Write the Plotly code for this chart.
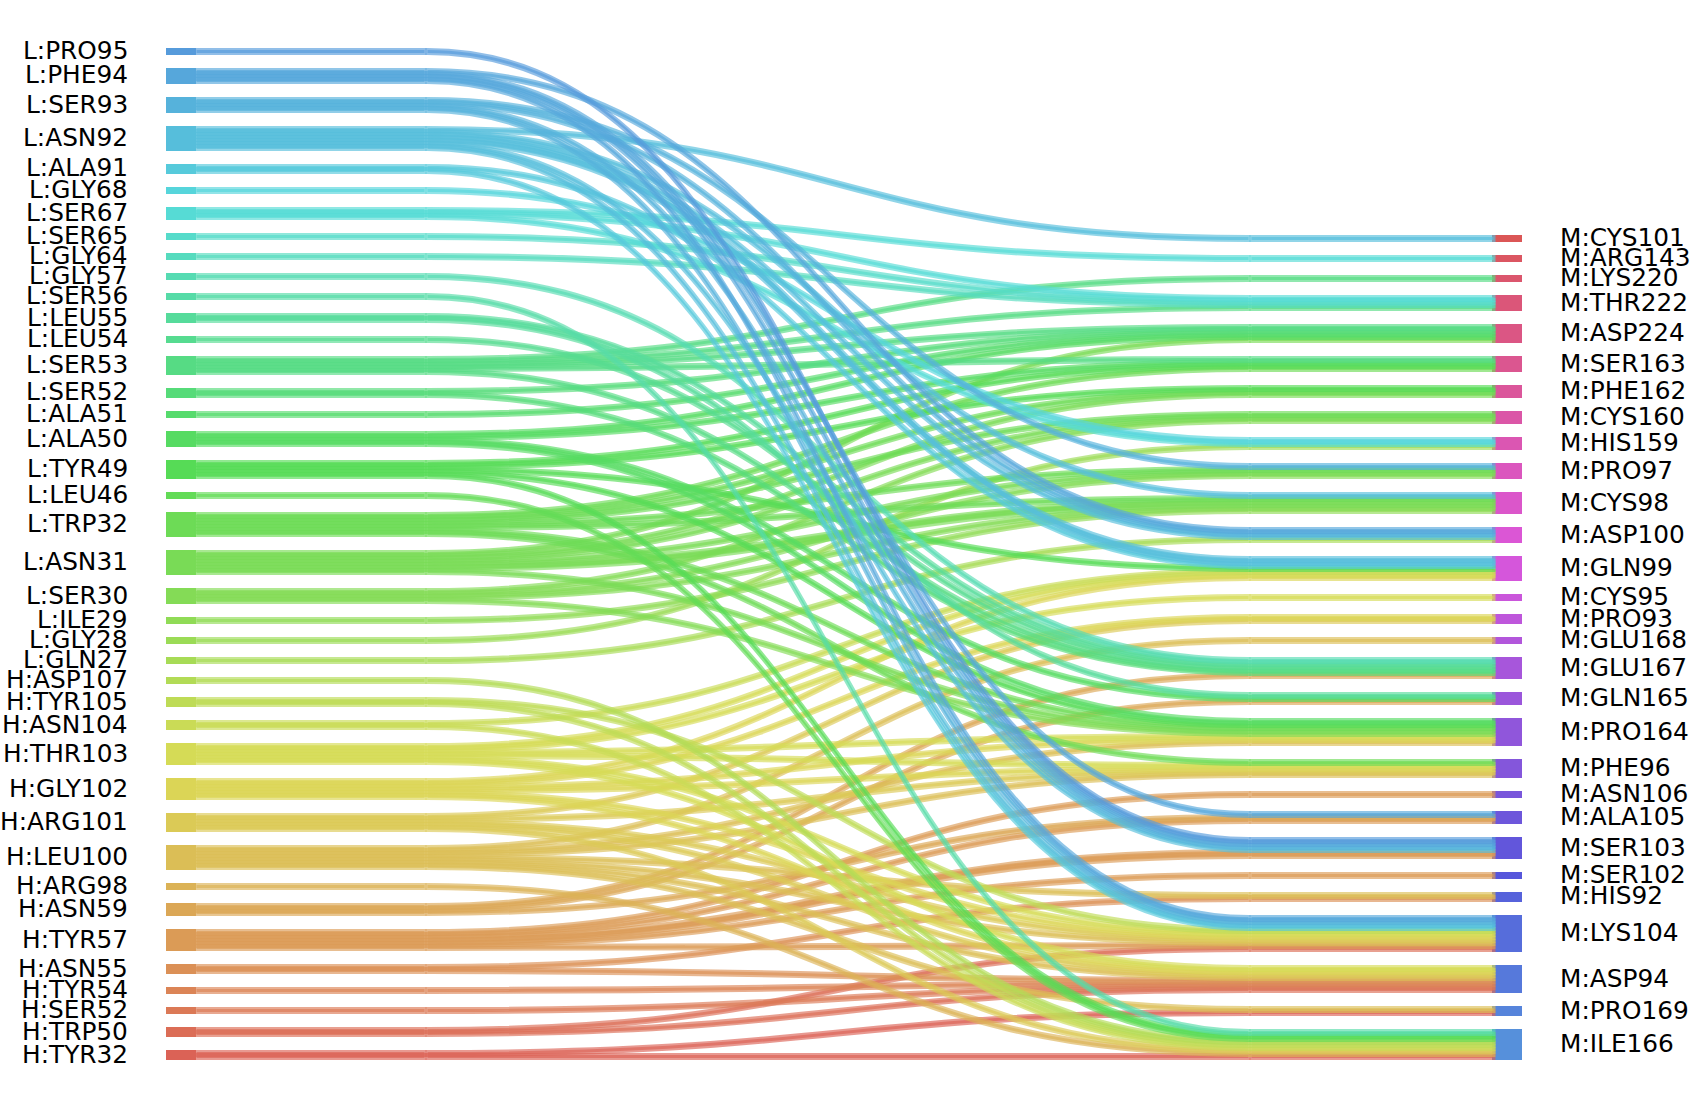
import colorsys
import plotly.graph_objects as go

LEFT_NODES = ["L:PRO95","L:PHE94","L:SER93","L:ASN92","L:ALA91","L:GLY68","L:SER67","L:SER65","L:GLY64","L:GLY57",
              "L:SER56","L:LEU55","L:LEU54","L:SER53","L:SER52","L:ALA51","L:ALA50","L:TYR49","L:LEU46","L:TRP32",
              "L:ASN31","L:SER30","L:ILE29","L:GLY28","L:GLN27","H:ASP107","H:TYR105","H:ASN104","H:THR103","H:GLY102",
              "H:ARG101","H:LEU100","H:ARG98","H:ASN59","H:TYR57","H:ASN55","H:TYR54","H:SER52","H:TRP50","H:TYR32"]

RIGHT_NODES = ["M:CYS101","M:ARG143","M:LYS220","M:THR222","M:ASP224","M:SER163","M:PHE162","M:CYS160","M:HIS159",
               "M:PRO97","M:CYS98","M:ASP100","M:GLN99","M:CYS95","M:PRO93","M:GLU168","M:GLU167","M:GLN165","M:PRO164",
               "M:PHE96","M:ASN106","M:ALA105","M:SER103","M:SER102","M:HIS92","M:LYS104","M:ASP94","M:PRO169","M:ILE166"]

# contacts: one list of source residues per target residue
CONTACTS = {
    "M:CYS101": ["L:ASN92"],
    "M:ARG143": ["L:SER67"],
    "M:LYS220": ["L:SER53"],
    "M:THR222": ["L:SER67","L:SER65","L:GLY64","L:SER53"],
    "M:ASP224": ["L:SER53","L:SER52","L:ALA51","L:ALA50","L:ASN31"],
    "M:SER163": ["L:SER53","L:ALA50","L:TYR49","L:TRP32"],
    "M:PHE162": ["L:TYR49","L:TRP32","L:ASN31"],
    "M:CYS160": ["L:TRP32","L:ASN31","L:SER30"],
    "M:HIS159": ["L:GLY68","L:SER67","L:GLY28"],
    "M:PRO97":  ["L:SER93","L:TRP32","L:ASN31","L:SER30"],
    "M:CYS98":  ["L:ASN92","L:TRP32","L:ASN31","L:ASN31","L:SER30","L:ILE29"],
    "M:ASP100": ["L:PHE94","L:SER93","L:ASN92","L:GLN27"],
    "M:GLN99":  ["L:ASN92","L:ASN92","L:ALA91","L:TYR49","H:ASN104","H:THR103","H:GLY102"],
    "M:CYS95":  ["H:THR103"],
    "M:PRO93":  ["H:GLY102","H:ARG101"],
    "M:GLU168": ["H:LEU100"],
    "M:GLU167": ["L:GLY57","L:LEU55","L:LEU54","L:SER53","L:SER52","H:ASN59"],
    "M:GLN165": ["L:LEU55","L:ALA50","H:ASN59"],
    "M:PRO164": ["L:ALA50","L:TYR49","L:TRP32","L:ASN31","L:SER30","H:THR103","H:GLY102","H:LEU100"],
    "M:PHE96":  ["L:TRP32","H:THR103","H:GLY102","H:ARG101","H:LEU100"],
    "M:ASN106": ["H:TYR57"],
    "M:ALA105": ["L:PHE94","H:ASN59","H:TYR57"],
    "M:SER103": ["L:PRO95","L:PHE94","L:SER93","L:ASN92","H:TYR57","H:TYR57"],
    "M:SER102": ["H:TYR57"],
    "M:HIS92":  ["H:LEU100","H:ASN55"],
    "M:LYS104": ["L:PHE94","L:SER93","L:ASN92","L:ALA91","H:TYR105","H:THR103","H:GLY102","H:ARG101","H:LEU100","H:TYR57","H:TRP50"],
    "M:ASP94":  ["H:THR103","H:GLY102","H:ARG101","H:LEU100","H:ASN55","H:TYR54","H:SER52","H:TRP50"],
    "M:PRO169": ["H:LEU100","H:TYR32"],
    "M:ILE166": ["L:SER56","L:LEU46","L:TYR49","H:ASP107","H:TYR105","H:ASN104","H:ARG101","H:ARG98","H:TYR32"],
}

W, H = 1690, 1108
DOM_L, DOM_R, DOM_T, DOM_B = 166, 1522, 50, 1058
UNIT, PAD = 3, 17
LINK_ALPHA = 0.65
LINE_ALPHA = 0.65
LINK_W = 4
X_START, X_BEND_L, X_BEND_R, X_END = 195, 426, 1250, 1495
X_BOX_L, X_BOX_R = 181, 1507


def rgb(i):
    r, g, b = colorsys.hls_to_rgb((0.0 - i / 69) % 1, 0.6, 0.65)
    return int(r * 255), int(g * 255), int(b * 255)


color_of = {n: rgb(i) for i, n in enumerate(RIGHT_NODES + LEFT_NODES)}

pairs = []
for t in RIGHT_NODES:
    for s in sorted(CONTACTS[t], key=LEFT_NODES.index):
        pairs.append((s, t))

l_count = {n: sum(1 for s, _ in pairs if s == n) for n in LEFT_NODES}
r_count = {n: len(CONTACTS[n]) for n in RIGHT_NODES}
dw, dh = DOM_R - DOM_L, DOM_B - DOM_T
x_dom = [DOM_L / W, DOM_R / W]


def tops(names, counts):
    total = sum(counts[n] for n in names) * UNIT + (len(names) - 1) * PAD
    y = dh - total
    out = {}
    for n in names:
        out[n] = y
        y += counts[n] * UNIT + PAD
    return out


top_l = tops(LEFT_NODES, l_count)
top_r = tops(RIGHT_NODES, r_count)
cy_l = {n: top_l[n] + l_count[n] * UNIT / 2 for n in LEFT_NODES}
cy_r = {n: top_r[n] + r_count[n] * UNIT / 2 for n in RIGHT_NODES}


def node_box(name, count, x_px, cy):
    # a node box is its own small trace, so that its outline can take its colour
    height = count * UNIT
    rgb_txt = "rgb(%d,%d,%d)" % color_of[name]
    return go.Sankey(
        arrangement="fixed",
        domain=dict(x=x_dom, y=[1 - (DOM_T + height) / H, 1 - DOM_T / H]),
        hoverinfo="skip",
        node=dict(pad=0, thickness=26, label=["", ""],
                  x=[(x_px - DOM_L) / dw] * 2, y=[cy / height] * 2,
                  color=rgb_txt, line=dict(color=rgb_txt, width=4), hoverinfo="skip"),
        link=dict(source=[0], target=[1], value=[count], color="rgba(0,0,0,0)",
                  line=dict(color="rgba(0,0,0,0)", width=0), hoverinfo="skip"),
    )


traces = []
for n in RIGHT_NODES:
    traces.append(node_box(n, r_count[n], X_BOX_R, cy_r[n]))
for n in LEFT_NODES:
    traces.append(node_box(n, l_count[n], X_BOX_L, cy_l[n]))

# ribbons: one trace per source residue, each with its own outline colour.
seq = []
seen = {}
for s, t in pairs:
    k = seen.get(t, 0)
    seq.append((s, t, top_r[t] + (k + 0.5) * UNIT))
    seen[t] = k + 1

for s in reversed(LEFT_NODES):
    mine = [p for p in seq if p[0] == s]
    n = len(mine)
    height = n * UNIT
    ys_l = [top_l[s] + (i + 0.5) * UNIT for i in range(n)]
    ys_r = [p[2] for p in mine]
    xs, ys = [], []
    for x_px, col_y in ((X_START, ys_l), (X_BEND_L, ys_l), (X_BEND_R, ys_r), (X_END, ys_r)):
        xs += [(x_px - DOM_L) / dw] * n
        ys += [v / height for v in col_y]
    src, tgt = [], []
    for i in range(n):
        for col in range(3):
            src.append(col * n + i)
            tgt.append((col + 1) * n + i)
    c = color_of[s]
    traces.append(go.Sankey(
        arrangement="fixed",
        domain=dict(x=x_dom, y=[1 - (DOM_T + height) / H, 1 - DOM_T / H]),
        hoverinfo="skip",
        node=dict(pad=0, thickness=3, label=[""] * (4 * n), x=xs, y=ys,
                  color="rgba(0,0,0,0)", line=dict(width=0), hoverinfo="skip"),
        link=dict(source=src, target=tgt, value=[1] * len(src),
                  color="rgba(%d,%d,%d,%s)" % (*c, LINK_ALPHA),
                  line=dict(color="rgba(%d,%d,%d,%s)" % (*c, LINE_ALPHA), width=LINK_W),
                  hoverinfo="skip"),
    ))

fig = go.Figure(traces)
ann = []
for n in LEFT_NODES:
    ann.append(dict(x=130 / W, y=1 - (DOM_T + cy_l[n] - 1) / H, xref="paper", yref="paper", text=n,
                    showarrow=False, xanchor="right", yanchor="middle"))
for n in RIGHT_NODES:
    ann.append(dict(x=1558 / W, y=1 - (DOM_T + cy_r[n] - 1) / H, xref="paper", yref="paper", text=n,
                    showarrow=False, xanchor="left", yanchor="middle"))
fig.update_layout(
    width=W, height=H, margin=dict(l=0, r=0, t=0, b=0),
    paper_bgcolor="white", plot_bgcolor="white",
    font=dict(family="DejaVu Sans", size=24.8, color="black"),
    annotations=ann,
)
fig.write_html("out.html", config=dict(displayModeBar=False),
               post_script="document.body.style.margin='0';")
